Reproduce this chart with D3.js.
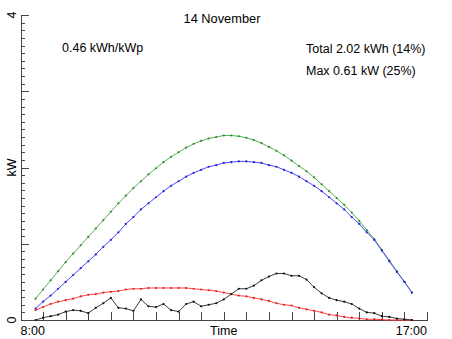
<!DOCTYPE html>
<html>
<head>
<meta charset="utf-8">
<script src="https://cdn.jsdelivr.net/npm/d3@7"></script>
<style>
  html, body { margin: 0; padding: 0; background: #fff; }
  svg { display: block; font-family: "Liberation Sans", Arial, sans-serif; }
  .axis path, .axis line { stroke: #444; shape-rendering: crispEdges; }
</style>
</head>
<body>
<svg id="chart" width="452" height="339"></svg>
<script>
// Ten-minute samples for the day
const times = [
  "8:20","8:30","8:40","8:50","9:00","9:10","9:20","9:30","9:40","9:50",
  "10:00","10:10","10:20","10:30","10:40","10:50","11:00","11:10","11:20","11:30",
  "11:40","11:50","12:00","12:10","12:20","12:30","12:40","12:50","13:00","13:10",
  "13:20","13:30","13:40","13:50","14:00","14:10","14:20","14:30","14:40","14:50",
  "15:00","15:10","15:20","15:30","15:40","15:50","16:00","16:10","16:20","16:30","16:40"
];

// Clear-sky output on the tilted array (kW)
const clearTilted = [
  0.28,0.40,0.52,0.64,0.76,0.87,0.98,1.09,1.20,1.31,
  1.42,1.53,1.63,1.73,1.82,1.91,1.99,2.07,2.14,2.20,
  2.26,2.31,2.35,2.38,2.40,2.42,2.42,2.41,2.39,2.36,
  2.32,2.27,2.22,2.16,2.09,2.02,1.95,1.87,1.78,1.69,
  1.60,1.51,1.41,1.30,1.18,1.06,0.92,0.78,0.64,0.50,0.36
];

// Clear-sky output, second reference (kW)
const clearRef = [
  0.15,0.24,0.32,0.41,0.50,0.59,0.68,0.77,0.86,0.96,
  1.05,1.15,1.26,1.35,1.45,1.53,1.61,1.69,1.76,1.82,
  1.88,1.93,1.97,2.01,2.03,2.06,2.07,2.08,2.08,2.07,
  2.06,2.03,2.01,1.97,1.93,1.88,1.82,1.76,1.69,1.61,
  1.53,1.45,1.35,1.26,1.15,1.05,0.91,0.77,0.63,0.50,0.36
];

// Expected output for the day (kW)
const expected = [
  0.13,0.17,0.21,0.24,0.26,0.28,0.31,0.33,0.34,0.36,
  0.37,0.38,0.40,0.41,0.41,0.42,0.42,0.42,0.42,0.42,
  0.42,0.41,0.40,0.39,0.38,0.36,0.34,0.32,0.31,0.29,
  0.27,0.25,0.22,0.20,0.19,0.16,0.14,0.12,0.10,0.07,
  0.06,0.04,0.03,0.02,0.01,0.01,0.005,0,0,0,0
];

// Measured output (kW)
const measured = [
  0.00,0.03,0.05,0.07,0.11,0.13,0.12,0.09,0.16,0.22,
  0.29,0.16,0.15,0.12,0.27,0.18,0.17,0.21,0.13,0.11,
  0.21,0.24,0.18,0.20,0.22,0.27,0.34,0.41,0.41,0.45,
  0.52,0.57,0.61,0.61,0.58,0.58,0.53,0.43,0.35,0.29,
  0.26,0.24,0.21,0.15,0.10,0.09,0.05,0.04,0.02,0.01,0.00
];

const xTickLabels = ["8:00", "17:00"];
const yTickLabels = ["0", "4"];
const titleText = "14 November";
const infoLeft = "0.46 kWh/kWp";
const infoRight = ["Total 2.02 kWh (14%)", "Max 0.61 kW (25%)"];

const toMin = s => { const [h, m] = s.split(":").map(Number); return h * 60 + m; };

const svg = d3.select("#chart");
const x = d3.scaleLinear().domain([toMin(xTickLabels[0]), toMin(xTickLabels[1])]).range([20.5, 427]);
const y = d3.scaleLinear().domain([+yTickLabels[0], +yTickLabels[1]]).range([320, 15]);

// Bottom axis: ticks every half hour, pointing inward
const xAxis = d3.axisBottom(x)
  .tickValues(d3.range(x.domain()[0], x.domain()[1] + 1, 30))
  .tickSizeInner(-8).tickSizeOuter(0).tickFormat("");
svg.append("g").attr("class", "axis").attr("transform", "translate(0,320)").call(xAxis);

// Left axis: minor ticks every 0.1 kW, major every 1 kW
const yMinor = d3.axisLeft(y).tickValues(d3.range(0, 41).map(d => d / 10))
  .tickSizeInner(-4).tickSizeOuter(0).tickFormat("");
svg.append("g").attr("class", "axis").attr("transform", "translate(20.5,0)").call(yMinor);
const yMajor = d3.axisLeft(y).tickValues([0, 1, 2, 3, 4])
  .tickSizeInner(-8).tickSizeOuter(0).tickFormat("");
svg.append("g").attr("class", "axis").attr("transform", "translate(20.5,0)").call(yMajor);
svg.selectAll(".axis .domain").attr("stroke", "#444");

// Axis labels
const fs = "12.5px";
svg.append("text").attr("x", x.range()[0]).attr("y", 334.5).attr("font-size", fs)
  .attr("text-anchor", "start").text(xTickLabels[0]);
svg.append("text").attr("x", x.range()[1]).attr("y", 334.5).attr("font-size", fs)
  .attr("text-anchor", "end").text(xTickLabels[1]);
svg.append("text").attr("x", (x.range()[0] + x.range()[1]) / 2).attr("y", 334.5)
  .attr("font-size", fs).attr("text-anchor", "middle").text("Time");

yTickLabels.forEach(t => {
  svg.append("text").attr("font-size", fs).attr("text-anchor", "middle")
    .attr("transform", `translate(16,${y(+t)}) rotate(-90)`).text(t);
});
svg.append("text").attr("font-size", fs).attr("text-anchor", "middle")
  .attr("transform", `translate(16,${(y(0) + y(4)) / 2}) rotate(-90)`).text("kW");

// Title and summary text
svg.append("text").attr("x", 222).attr("y", 22.5).attr("font-size", "12.8px")
  .attr("text-anchor", "middle").text(titleText);
svg.append("text").attr("x", 62).attr("y", 52).attr("font-size", fs).text(infoLeft);
infoRight.forEach((t, i) => {
  svg.append("text").attr("x", 306).attr("y", 52.5 + i * 22.5).attr("font-size", fs).text(t);
});

// Series
const series = [
  { values: clearTilted, line: "#55b355", dot: "#2e8b2e" },
  { values: clearRef, line: "#4a4aff", dot: "#2222cc" },
  { values: expected, line: "#ff4545", dot: "#dd2020" },
  { values: measured, line: "#3a3a3a", dot: "#111111" }
];

const line = d3.line().x(d => x(toMin(d.t))).y(d => y(d.v));

series.forEach(s => {
  const pts = times.map((t, i) => ({ t, v: s.values[i] }));
  svg.append("path").datum(pts).attr("fill", "none").attr("stroke", s.line)
    .attr("stroke-width", 1).attr("d", line);
  svg.append("g").selectAll("circle").data(pts).join("circle")
    .attr("cx", d => x(toMin(d.t))).attr("cy", d => y(d.v)).attr("r", 1.1)
    .attr("fill", s.dot);
});
</script>
</body>
</html>
